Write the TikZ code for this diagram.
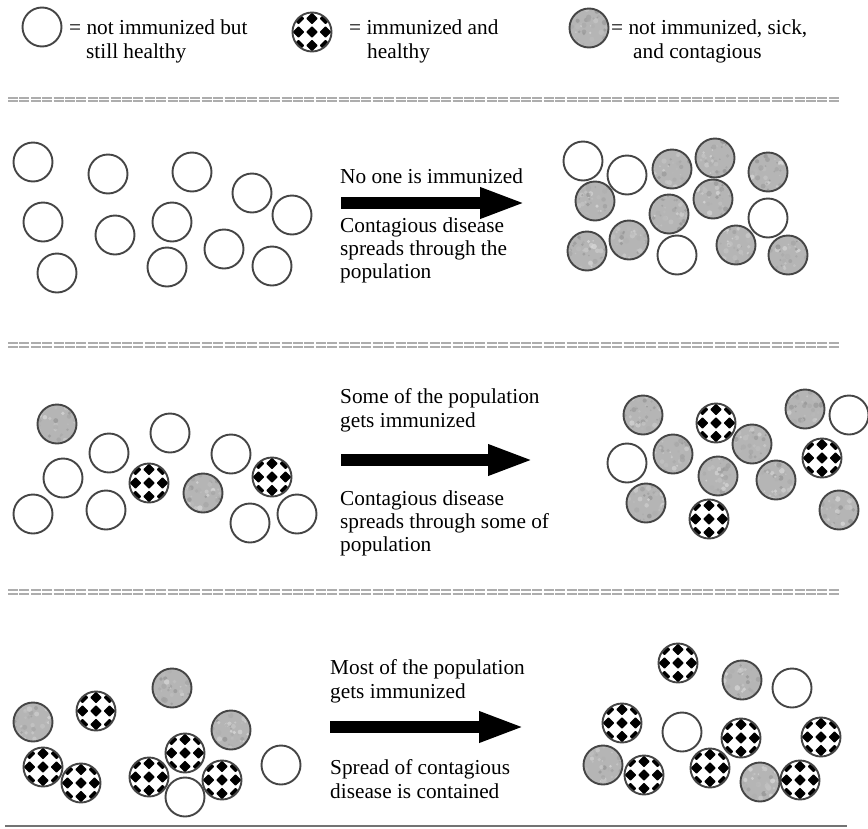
\documentclass[tikz,border=0pt]{standalone}
\usepackage{fontspec}
\setmainfont{Liberation Serif}
\usetikzlibrary{arrows.meta}

\definecolor{ringcol}{gray}{0.27}
\definecolor{sickbase}{gray}{0.71}
\definecolor{sepcol}{gray}{0.68}

\tikzset{
  ring/.style={draw=ringcol, line width=1.9pt},
  txt/.style={anchor=base west, inner sep=0pt, font=\fontsize{21.3}{23}\selectfont},
  bigarrow/.style={line width=12pt, -{Triangle[length=46pt,width=28pt]}},
  sepline/.style={draw=sepcol, line width=1.7pt, dash pattern=on 10pt off 1.4pt},
  % healthy person, not immunized
  healthy/.pic={\draw[ring, fill=white] (0,0) circle (19.5);},
  % immunized person: black diamonds on white
  immune/.pic={
    \begin{scope}
      \clip (0,0) circle (19.5);
      \fill[white] (0,0) circle (19.5);
      \foreach \i in {-1,0,1} \foreach \j in {-1,0,1} {
        \fill[black, rounded corners=0.8pt] (\i*13.5,\j*13.5+5.9) -- ++(5.9,-5.9) -- ++(-5.9,-5.9) -- ++(-5.9,5.9) -- cycle;
      }
    \end{scope}
    \draw[ring] (0,0) circle (19.5);
  },
  % sick and contagious: mottled grey
  sick/.pic={
    \begin{scope}
      \clip (0,0) circle (19.5);
      \fill[sickbase] (0,0) circle (19.5);
      \foreach \k in {1,...,45} {
        \pgfmathsetmacro\px{rand*19}
        \pgfmathsetmacro\py{rand*19}
        \pgfmathsetmacro\pr{0.8+rnd*2.0}
        \pgfmathtruncatemacro\pv{16+rnd*26}
        \fill[black!\pv, opacity=0.8] (\px,\py) circle (\pr);
      }
    \end{scope}
    \draw[ring] (0,0) circle (19.5);
  }
}

\begin{document}
\begin{tikzpicture}[x=1pt,y=-1pt]
\pgfmathsetseed{4711}
\useasboundingbox (0,0) rectangle (868,828);

% ---------- legend ----------
\pic at (42,27) {healthy};
\node[txt] (lega1) at (69,34) {= not immunized but};
\node[txt] (lega2) at (86,58) {still healthy};
\pic at (312,32) {immune};
\node[txt] (legb1) at (349,34) {= immunized and};
\node[txt] (legb2) at (367,58) {healthy};
\pic at (589,28) {sick};
\node[txt] (legc1) at (611,34) {= not immunized, sick,};
\node[txt] (legc2) at (633,58) {and contagious};

% ---------- separators ----------
\foreach \y in {99.5,345,592} {
  \draw[sepline] (8,\y-1.8) -- (840,\y-1.8);
  \draw[sepline] (8,\y+1.8) -- (840,\y+1.8);
}
\draw[draw=black!55, line width=2pt] (5,826) -- (847,826);

% ---------- row 1: no one immunized ----------
\foreach \p in {(33,162),(108,174),(192,172),(252,193),(292,215),(43,222),
                (115,235),(172,222),(224,249),(57,273),(167,267),(272,266)}
  \pic at \p {healthy};

\node[txt] (r1a) at (340,183) {No one is immunized};
\coordinate (r1s) at (341,203);
\coordinate (r1e) at (526,203);
\draw[bigarrow] (r1s) -- (r1e);
\node[txt] (r1b) at (340,232) {Contagious disease};
\node[txt] (r1c) at (340,255) {spreads through the};
\node[txt] (r1d) at (340,278) {population};

\foreach \p in {(583,161),(627,175),(768,218),(677,255)}
  \pic at \p {healthy};
\foreach \p in {(672,169),(715,158),(768,172),(595,201),(713,199),(669,214),
                (587,251),(629,240),(736,245),(788,255)}
  \pic at \p {sick};

% ---------- row 2: some immunized ----------
\foreach \p in {(109,453),(170,433),(231,454),(63,478),(33,514),(106,510),
                (250,523),(297,514)}
  \pic at \p {healthy};
\foreach \p in {(57,424),(203,493)}
  \pic at \p {sick};
\foreach \p in {(149,483),(272,477)}
  \pic at \p {immune};

\node[txt] (r2a) at (340,403) {Some of the population};
\node[txt] (r2b) at (340,427) {gets immunized};
\coordinate (r2s) at (341,460);
\coordinate (r2e) at (534,460);
\draw[bigarrow] (r2s) -- (r2e);
\node[txt] (r2c) at (340,505) {Contagious disease};
\node[txt] (r2d) at (340,528) {spreads through some of};
\node[txt] (r2e) at (340,551) {population};

\foreach \p in {(849,415),(627,463)}
  \pic at \p {healthy};
\foreach \p in {(643,415),(805,409),(673,454),(752,444),(718,476),(776,480),
                (646,503),(839,510)}
  \pic at \p {sick};
\foreach \p in {(716,423),(822,458),(709,519)}
  \pic at \p {immune};

% ---------- row 3: most immunized ----------
\foreach \p in {(33,722),(172,688),(231,730)}
  \pic at \p {sick};
\foreach \p in {(96,711),(43,767),(81,783),(185,753),(149,777),(222,780)}
  \pic at \p {immune};
\foreach \p in {(185,797),(281,765)}
  \pic at \p {healthy};

\node[txt] (r3a) at (330,674) {Most of the population};
\node[txt] (r3b) at (330,698) {gets immunized};
\coordinate (r3s) at (330,727);
\coordinate (r3e) at (525,727);
\draw[bigarrow] (r3s) -- (r3e);
\node[txt] (r3c) at (330,774) {Spread of contagious};
\node[txt] (r3d) at (330,798) {disease is contained};

\foreach \p in {(742,680),(603,765),(760,782)}
  \pic at \p {sick};
\foreach \p in {(792,688),(682,732)}
  \pic at \p {healthy};
\foreach \p in {(678,663),(622,723),(741,738),(821,737),(644,775),(710,768),
                (800,780)}
  \pic at \p {immune};

\end{tikzpicture}
\end{document}
